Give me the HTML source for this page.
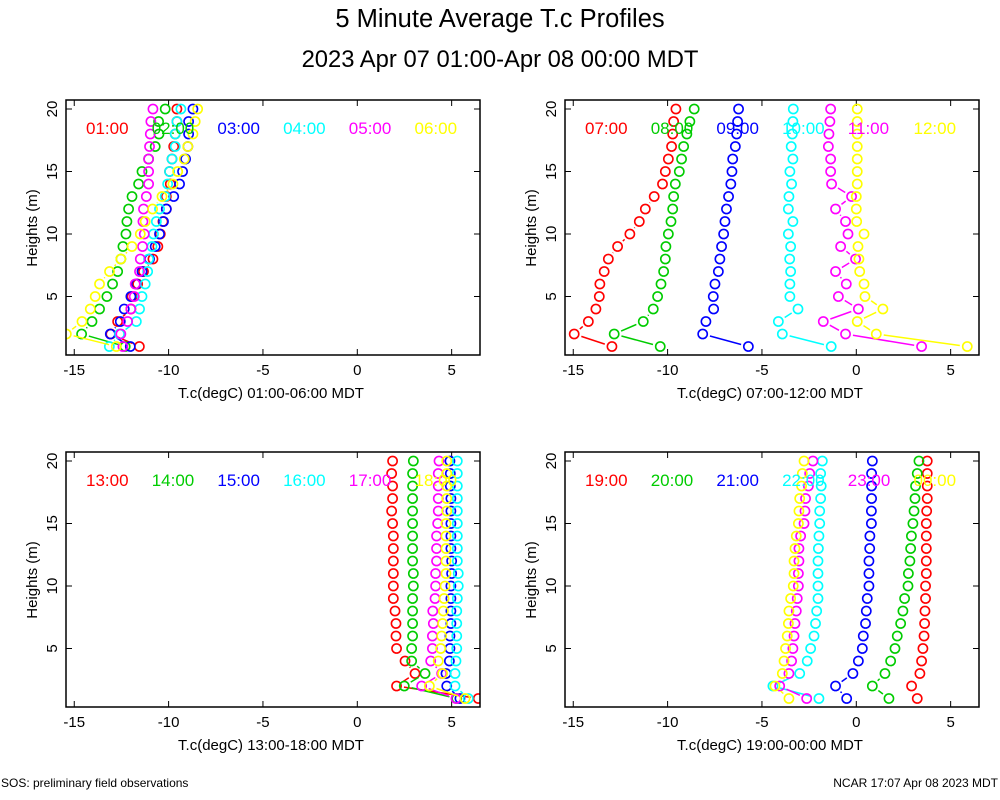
<!DOCTYPE html>
<html><head><meta charset="utf-8"><style>
html,body{margin:0;padding:0;background:#fff;}
svg{display:block;font-family:"Liberation Sans",sans-serif;}
</style></head><body>
<svg id="chart" width="1000" height="800" viewBox="0 0 1000 800">
<text x="500" y="27" font-size="25.5" text-anchor="middle">5 Minute Average T.c Profiles</text>
<text x="500" y="67" font-size="23.8" text-anchor="middle">2023 Apr 07 01:00-Apr 08 00:00 MDT</text>
<text x="1" y="787" font-size="12">SOS: preliminary field observations</text>
<text x="998" y="787" font-size="12" text-anchor="end">NCAR 17:07 Apr 08 2023 MDT</text>
</svg>
<script>
const heights = [1,2,3,4,5,6,7,8,9,10,11,12,13,14,15,16,17,18,19,20];
const xTicks = [-15,-10,-5,0,5];
const yTicks = [5,10,15,20];
const colors = ['#ff0000','#00cc00','#0000ff','#00ffff','#ff00ff','#ffff00'];
const labels1 = ['01:00','02:00','03:00','04:00','05:00','06:00'];
const labels2 = ['07:00','08:00','09:00','10:00','11:00','12:00'];
const labels3 = ['13:00','14:00','15:00','16:00','17:00','18:00'];
const labels4 = ['19:00','20:00','21:00','22:00','23:00','00:00'];
const xTitles = ['T.c(degC) 01:00-06:00 MDT','T.c(degC) 07:00-12:00 MDT','T.c(degC) 13:00-18:00 MDT','T.c(degC) 19:00-00:00 MDT'];
// panel 1
const p1s01 = [-11.55,-13.06,-12.7,-12.0,-11.94,-11.64,-11.33,-10.83,-10.57,-10.44,-10.3,-10.12,-10.12,-9.91,-9.95,-9.82,-9.73,-9.65,-9.56,-9.56];
const p1s02 = [-12.3,-14.61,-14.06,-13.66,-13.27,-12.97,-12.7,-12.53,-12.42,-12.26,-12.21,-12.12,-11.94,-11.59,-11.41,-11.06,-10.71,-10.51,-10.53,-10.18];
const p1s03 = [-12.03,-13.09,-12.56,-12.35,-12.0,-11.71,-11.41,-11.01,-10.71,-10.48,-10.27,-10.12,-9.73,-9.42,-9.26,-9.1,-8.98,-8.94,-8.94,-8.71];
const p1s04 = [-13.14,-12.6,-11.71,-11.54,-11.41,-11.24,-11.11,-11.06,-10.88,-10.8,-10.65,-10.48,-10.18,-10.05,-9.95,-9.82,-9.65,-9.65,-9.56,-9.35];
const p1s05 = [-12.42,-12.53,-12.17,-12.0,-11.82,-11.77,-11.54,-11.5,-11.38,-11.29,-11.36,-11.33,-11.18,-11.06,-11.06,-11.06,-11.01,-10.97,-10.94,-10.83];
const p1s06 = [-12.77,-15.42,-14.59,-14.15,-13.89,-13.66,-13.13,-12.53,-11.94,-11.5,-11.24,-10.85,-10.35,-9.77,-9.52,-9.17,-8.98,-8.71,-8.59,-8.46];
// panel 2
const p2s07 = [-12.95,-14.95,-14.2,-13.8,-13.62,-13.59,-13.36,-13.14,-12.65,-12.0,-11.5,-11.18,-10.71,-10.27,-10.12,-9.96,-9.79,-9.73,-9.68,-9.56];
const p2s08 = [-10.39,-12.83,-11.29,-10.76,-10.53,-10.35,-10.21,-10.12,-10.09,-9.96,-9.82,-9.73,-9.68,-9.59,-9.38,-9.26,-9.15,-8.98,-8.82,-8.59];
const p2s09 = [-5.72,-8.14,-7.97,-7.56,-7.58,-7.49,-7.31,-7.23,-7.14,-7.03,-6.96,-6.88,-6.77,-6.65,-6.59,-6.55,-6.41,-6.34,-6.29,-6.24];
const p2s10 = [-1.33,-3.92,-4.13,-3.09,-3.52,-3.52,-3.48,-3.53,-3.48,-3.6,-3.36,-3.6,-3.57,-3.43,-3.52,-3.36,-3.45,-3.39,-3.36,-3.34];
const p2s11 = [3.46,-0.57,-1.75,0.11,-0.95,-0.53,-1.1,-0.04,-0.83,-0.44,-0.57,-1.1,-0.25,-1.31,-1.36,-1.36,-1.48,-1.45,-1.4,-1.36];
const p2s12 = [5.88,1.06,0.05,1.41,0.46,0.41,0.18,0.14,0.09,0.41,0.02,0.0,0.0,0.05,0.05,0.05,0.05,0.05,0.05,0.05];
// panel 3
const p3s13 = [6.41,2.08,3.06,2.53,2.08,2.05,2.05,2.0,1.91,1.91,1.91,1.91,1.91,1.91,1.87,1.82,1.87,1.87,1.82,1.87];
const p3s14 = [5.27,2.49,3.59,2.88,2.88,2.93,2.93,2.93,2.93,2.97,2.97,2.93,2.93,2.93,2.93,2.93,2.93,2.93,2.93,2.97];
const p3s15 = [5.44,4.74,4.7,4.88,4.91,4.91,4.96,4.96,4.96,4.96,5.0,5.0,4.96,4.96,4.96,4.96,4.96,4.93,4.93,4.91];
const p3s16 = [5.88,5.18,5.18,5.23,5.27,5.27,5.27,5.27,5.3,5.35,5.35,5.3,5.3,5.3,5.3,5.3,5.3,5.3,5.3,5.3];
const p3s17 = [5.23,3.41,4.47,3.89,3.98,3.98,4.03,4.0,4.12,4.15,4.15,4.2,4.2,4.2,4.26,4.29,4.29,4.29,4.29,4.33];
const p3s18 = [5.71,3.82,4.52,4.29,4.42,4.47,4.52,4.56,4.6,4.65,4.7,4.7,4.7,4.7,4.7,4.74,4.74,4.74,4.74,4.74];
// panel 4
const p4s19 = [3.23,2.93,3.37,3.46,3.53,3.59,3.62,3.64,3.67,3.67,3.71,3.71,3.71,3.71,3.71,3.73,3.76,3.76,3.76,3.76];
const p4s20 = [1.73,0.85,1.52,1.82,2.05,2.17,2.35,2.47,2.56,2.74,2.76,2.84,2.88,2.92,3.0,3.06,3.11,3.14,3.23,3.32];
const p4s21 = [-0.51,-1.1,-0.18,0.11,0.32,0.37,0.49,0.53,0.58,0.67,0.67,0.67,0.71,0.72,0.8,0.8,0.81,0.81,0.81,0.85];
const p4s22 = [-1.98,-4.42,-3.0,-2.6,-2.42,-2.24,-2.16,-2.1,-2.03,-2.03,-2.03,-2.03,-2.01,-1.98,-1.94,-1.94,-1.89,-1.86,-1.89,-1.8];
const p4s23 = [-2.63,-4.06,-3.57,-3.43,-3.36,-3.3,-3.25,-3.18,-3.13,-3.07,-3.07,-3.04,-3.04,-2.95,-2.77,-2.72,-2.69,-2.54,-2.47,-2.3];
const p4s00 = [-3.57,-4.31,-3.92,-3.83,-3.75,-3.66,-3.6,-3.57,-3.48,-3.34,-3.3,-3.3,-3.25,-3.18,-3.07,-3.04,-3.0,-2.9,-2.86,-2.77];

const NS='http://www.w3.org/2000/svg';
const svg=document.getElementById('chart');
function mk(tag,attrs,parent){const e=document.createElementNS(NS,tag);for(const k in attrs)e.setAttribute(k,attrs[k]);(parent||svg).appendChild(e);return e;}
const panels=[
 {L:66,T:100,series:[p1s01,p1s02,p1s03,p1s04,p1s05,p1s06],labels:labels1},
 {L:565,T:100,series:[p2s07,p2s08,p2s09,p2s10,p2s11,p2s12],labels:labels2},
 {L:66,T:452,series:[p3s13,p3s14,p3s15,p3s16,p3s17,p3s18],labels:labels3},
 {L:565,T:452,series:[p4s19,p4s20,p4s21,p4s22,p4s23,p4s00],labels:labels4}
];
const W=414,H=255,XS=18.87,YS=12.5;
panels.forEach((p,pi)=>{
 const xf=v=>p.L+291.3+v*XS;
 const yf=h=>p.T+259-h*YS;
 const g=mk('g',{});
 
 
 const cp=mk('clipPath',{id:'clip'+pi},g);
 mk('rect',{x:p.L,y:p.T,width:W,height:H},cp);
 xTicks.forEach(t=>{
  const x=xf(t);
  mk('line',{x1:x,y1:p.T+H,x2:x,y2:p.T+H-6,stroke:'#000','stroke-width':1},g);
  mk('line',{x1:x,y1:p.T,x2:x,y2:p.T+6,stroke:'#000','stroke-width':1},g);
  const tl=mk('text',{x:x,y:p.T+H+20,'font-size':15,'text-anchor':'middle'},g);
  
  
  tl.textContent=String(t);
 });
 yTicks.forEach(t=>{
  const y=yf(t);
  mk('line',{x1:p.L,y1:y,x2:p.L+6,y2:y,stroke:'#000','stroke-width':1},g);
  mk('line',{x1:p.L+W,y1:y,x2:p.L+W-6,y2:y,stroke:'#000','stroke-width':1},g);
  const tl=mk('text',{x:0,y:0,'font-size':15,'text-anchor':'middle',transform:`translate(${p.L-9},${y}) rotate(-90)`},g);
  
  
  tl.textContent=String(t);
 });
 const yt=mk('text',{x:0,y:0,'font-size':15,'text-anchor':'middle',transform:`translate(${p.L-29},${p.T+128}) rotate(-90)`},g);
 
 
 yt.textContent='Heights (m)';
 const xt=mk('text',{x:p.L+W/2-2,y:p.T+H+43,'font-size':15,'text-anchor':'middle'},g);
 
 
 xt.textContent=xTitles[pi];
 const sg=mk('g',{'clip-path':`url(#clip${pi})`},g);
 p.series.forEach((vals,si)=>{
  const c=colors[si];
  const s=mk('g',{},sg);
  
  
  for(let i=0;i<vals.length-1;i++){
   const x1=xf(vals[i]),y1=yf(heights[i]),x2=xf(vals[i+1]),y2=yf(heights[i+1]);
   const dx=x2-x1,dy=y2-y1,d=Math.hypot(dx,dy),gap=7.5;
   if(d>2*gap){
    const ux=dx/d,uy=dy/d;
    mk('line',{x1:x1+ux*gap,y1:y1+uy*gap,x2:x2-ux*gap,y2:y2-uy*gap,stroke:c,'stroke-width':1.5},s);
   }
  }
  vals.forEach((v,i)=>{
   const pt=mk('circle',{cx:xf(v),cy:yf(heights[i]),r:4.6,fill:'none',stroke:c,'stroke-width':1.6},s);
   
   
  });
 });
 p.labels.forEach((lb,si)=>{
  const t=mk('text',{x:p.L+20+si*65.7,y:p.T+34,'font-size':17,fill:colors[si]},g);
  
  
  t.textContent=lb;
 });
 mk('rect',{x:p.L,y:p.T,width:W,height:H,fill:'none',stroke:'#000','stroke-width':1.5},g);
});
</script>
</body></html>
